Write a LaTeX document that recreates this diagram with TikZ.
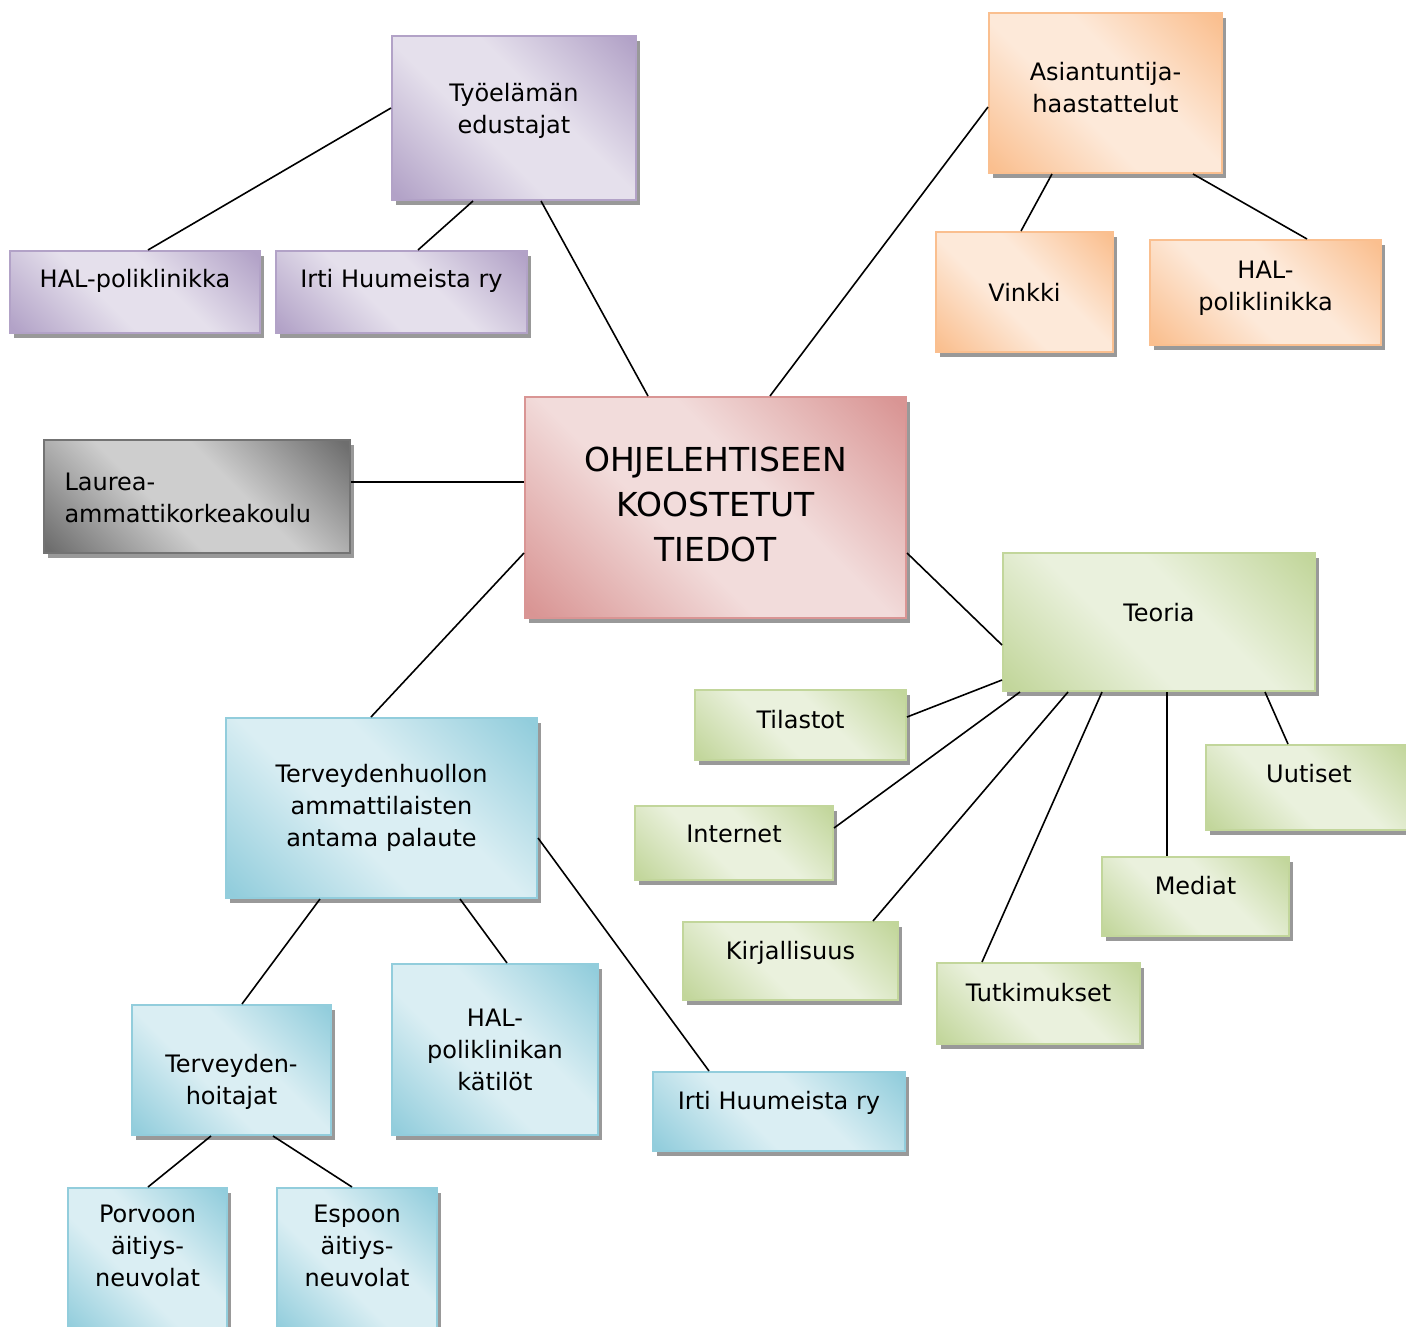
\documentclass[tikz,border=0pt]{standalone}
\usepackage{fontspec}
\setmainfont{DejaVu Sans}
\usetikzlibrary{shadows}
\definecolor{purdark}{RGB}{178,162,199}
\definecolor{purlight}{RGB}{229,224,236}
\definecolor{ordark}{RGB}{250,191,143}
\definecolor{orlight}{RGB}{253,233,217}
\definecolor{reddark}{RGB}{217,149,148}
\definecolor{redlight}{RGB}{242,220,219}
\definecolor{grdark}{RGB}{110,110,110}
\definecolor{grlight}{RGB}{206,206,206}
\definecolor{grndark}{RGB}{194,214,155}
\definecolor{grnlight}{RGB}{234,241,221}
\definecolor{bludark}{RGB}{146,205,220}
\definecolor{blulight}{RGB}{218,238,243}
% diagonal shading: dark corners, light band
\newcommand\boxshade[3]{\pgfdeclarehorizontalshading{#1}{100bp}{color(0bp)=(#2); color(16bp)=(#2); color(42bp)=(#3); color(58bp)=(#3); color(84bp)=(#2); color(100bp)=(#2)}}
\boxshade{purshade}{purdark}{purlight}
\boxshade{orshade}{ordark}{orlight}
\boxshade{redshade}{reddark}{redlight}
\boxshade{grshade}{grdark}{grlight}
\boxshade{grnshade}{grndark}{grnlight}
\boxshade{blushade}{bludark}{blulight}

\begin{document}
\begin{tikzpicture}[x=1pt, y=-1pt,
    every node/.style={font=\fontsize{24}{32}\selectfont},
    box/.style={rectangle, line width=2pt, align=center, inner sep=4pt,
      drop shadow={shadow xshift=4pt, shadow yshift=-5pt, fill=black!40, opacity=1}},
    purplebox/.style={box, draw=purdark, shading=purshade, shading angle=45},
    orangebox/.style={box, draw=ordark, shading=orshade, shading angle=45},
    redbox/.style={box, draw=reddark, shading=redshade, shading angle=45},
    graybox/.style={box, draw=black!55, shading=grshade, shading angle=45},
    greenbox/.style={box, draw=grndark, shading=grnshade, shading angle=45},
    bluebox/.style={box, draw=bludark, shading=blushade, shading angle=45},
    link/.style={line width=1.6pt}]
    \useasboundingbox (0,0) rectangle (1406,1327);

    % Workplace representatives
    \node[purplebox, minimum width=244pt, minimum height=164pt, text depth=20pt] (tyo) at (514,118) {Työelämän\\edustajat};
    \node[purplebox, minimum width=250pt, minimum height=82pt, text depth=28pt] (halvas) at (135,292) {HAL-poliklinikka};
    \node[purplebox, minimum width=251pt, minimum height=82pt, text depth=28pt] (irtiyla) at (401.5,292) {Irti Huumeista ry};

    % Expert interviews
    \node[orangebox, minimum width=233pt, minimum height=160pt, text depth=12pt] (asian) at (1105.5,93) {Asiantuntija-\\haastattelut};
    \node[orangebox, minimum width=177pt, minimum height=120pt] (vinkki) at (1024.5,292) {Vinkki};
    \node[orangebox, minimum width=231pt, minimum height=105pt, text depth=14pt] (haloik) at (1265.5,292.5) {HAL-\\poliklinikka};

    % Centre
    \node[redbox, minimum width=381pt, minimum height=221pt, text depth=6pt, font=\fontsize{33}{45}\selectfont] (ohje) at (715.5,507.5) {OHJELEHTISEEN\\KOOSTETUT\\TIEDOT};
    \node[graybox, text width=265pt, inner xsep=20.5pt, minimum height=113pt, text depth=30pt, align=left] (laurea) at (197,496.5) {Laurea-\\ammattikorkeakoulu};

    % Theory
    \node[greenbox, minimum width=312pt, minimum height=138pt, text depth=20pt] (teoria) at (1159,622) {Teoria};
    \node[greenbox, minimum width=211pt, minimum height=70pt, text depth=12pt] (tilastot) at (800.5,725) {Tilastot};
    \node[greenbox, minimum width=206pt, minimum height=85pt, text depth=28pt] (uutiset) at (1309,787.5) {Uutiset};
    \node[greenbox, minimum width=198pt, minimum height=74pt, text depth=18pt] (internet) at (734,843) {Internet};
    \node[greenbox, minimum width=187pt, minimum height=79pt, text depth=22pt] (mediat) at (1195.5,896.5) {Mediat};
    \node[greenbox, minimum width=215pt, minimum height=78pt, text depth=22pt] (kirj) at (790.5,961) {Kirjallisuus};
    \node[greenbox, minimum width=203pt, minimum height=81pt, text depth=22pt] (tutk) at (1038.5,1003.5) {Tutkimukset};

    % Feedback from health care
    \node[bluebox, minimum width=311pt, minimum height=180pt] (terv) at (381.5,808) {Terveydenhuollon\\ammattilaisten\\antama palaute};
    \node[bluebox, minimum width=199pt, minimum height=130pt, text height=74pt] (thoit) at (231.5,1070) {Terveyden-\\hoitajat};
    \node[bluebox, minimum width=206pt, minimum height=171pt] (halkat) at (495,1049.5) {HAL-\\poliklinikan\\kätilöt};
    \node[bluebox, minimum width=252pt, minimum height=79pt, text depth=22pt] (irtiala) at (779,1111.5) {Irti Huumeista ry};
    \node[bluebox, minimum width=159pt, minimum height=145pt, text depth=30pt] (porvoo) at (147.5,1260.5) {Porvoon\\äitiys-\\neuvolat};
    \node[bluebox, minimum width=160pt, minimum height=145pt, text depth=30pt] (espoo) at (357,1260.5) {Espoon\\äitiys-\\neuvolat};

    % Connectors
    \draw[link] ([yshift=10pt]tyo.west) -- ([xshift=13pt]halvas.north);
    \draw[link] ([xshift=-41pt]tyo.south) -- ([xshift=16.5pt]irtiyla.north);
    \draw[link] ([xshift=27pt]tyo.south) -- ([xshift=-67.5pt]ohje.north);
    \draw[link] ([yshift=-14pt]asian.west) -- ([xshift=54.5pt]ohje.north);
    \draw[link] ([xshift=-53.5pt]asian.south) -- ([xshift=-3.5pt]vinkki.north);
    \draw[link] ([xshift=87.5pt]asian.south) -- ([xshift=41.5pt]haloik.north);
    \draw[link] ([yshift=14.5pt]laurea.east) -- ([yshift=25.5pt]ohje.west);
    \draw[link] ([yshift=-45.5pt]ohje.west) -- ([xshift=-10.5pt]terv.north);
    \draw[link] ([yshift=-45.5pt]ohje.east) -- ([yshift=-23pt]teoria.west);
    \draw[link] ([yshift=-58pt]teoria.west) -- ([yshift=8pt]tilastot.east);
    \draw[link] ([xshift=-139pt]teoria.south) -- ([yshift=15pt]internet.east);
    \draw[link] ([xshift=-91pt]teoria.south) -- ([xshift=82.5pt]kirj.north);
    \draw[link] ([xshift=-57pt]teoria.south) -- ([xshift=-56.5pt]tutk.north);
    \draw[link] ([xshift=8pt]teoria.south) -- ([xshift=-28.5pt]mediat.north);
    \draw[link] ([xshift=106pt]teoria.south) -- ([xshift=-21pt]uutiset.north);
    \draw[link] ([xshift=-61.5pt]terv.south) -- ([xshift=10.5pt]thoit.north);
    \draw[link] ([xshift=78.5pt]terv.south) -- ([xshift=12pt]halkat.north);
    \draw[link] ([yshift=-30pt]terv.east) -- ([xshift=-70pt]irtiala.north);
    \draw[link] ([xshift=-20.5pt]thoit.south) -- ([xshift=0.5pt]porvoo.north);
    \draw[link] ([xshift=41.5pt]thoit.south) -- ([xshift=-5pt]espoo.north);
\end{tikzpicture}
\end{document}
